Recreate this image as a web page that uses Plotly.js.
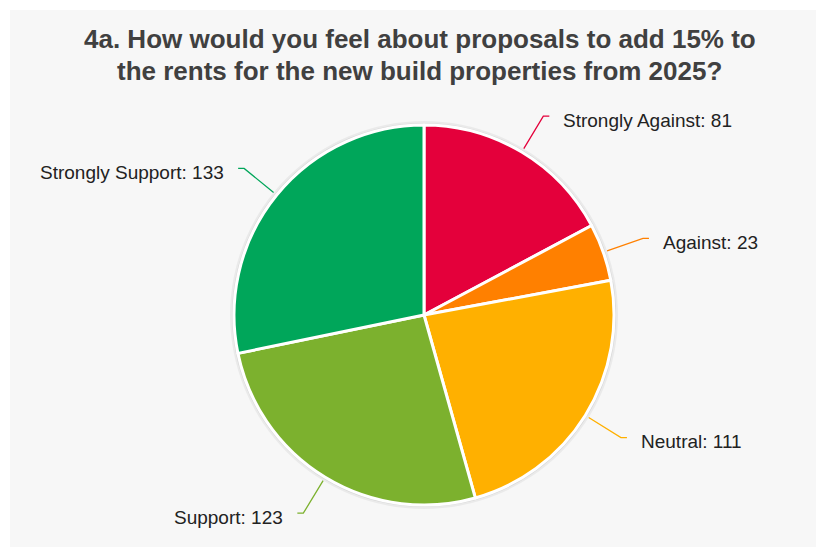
<!DOCTYPE html>
<html>
<head>
<meta charset="utf-8">
<script src="https://cdn.plot.ly/plotly-3.0.1.min.js"></script>
<style>html,body{margin:0;padding:0;background:#fff;}#chart{width:816px;height:547px;}</style>
</head>
<body>
<div id="chart"></div>
<script>
const categories = ["Strongly Against", "Against", "Neutral", "Support", "Strongly Support"];
const values = [81, 23, 111, 123, 133];
const colors = ["#e4003b", "#ff8000", "#ffb000", "#7cb12e", "#00a65a"];
const titleLines = ["4a. How would you feel about proposals to add 15% to",
                    "the rents for the new build properties from 2025?"];

const W = 816, H = 547;
const cx = 424, cy = 315, R = 190;
const px = x => x / W;
const py = y => 1 - y / H;

const total = values.reduce((a, b) => a + b, 0);
const shapes = [
  {type: "rect", xref: "paper", yref: "paper", x0: px(10), x1: 1, y0: 0, y1: py(10),
   fillcolor: "#f7f7f7", line: {width: 0}, layer: "below"},
  {type: "circle", xref: "paper", yref: "paper", x0: px(cx - R - 4), x1: px(cx + R + 4),
   y0: py(cy + R + 4), y1: py(cy - R - 4), fillcolor: "rgba(0,0,0,0.05)", line: {width: 0}, layer: "below"},
  {type: "circle", xref: "paper", yref: "paper", x0: px(cx - R - 2), x1: px(cx + R + 2),
   y0: py(cy + R + 2), y1: py(cy - R - 2), fillcolor: "rgba(0,0,0,0.08)", line: {width: 0}, layer: "below"}
];
const titleFont = {family: "Liberation Sans, Arial, sans-serif", size: 26, color: "#404040", weight: "bold"};
const annotations = titleLines.map((t, k) => ({
  xref: "paper", yref: "paper", x: px(420), y: py(39 + 32 * k), xanchor: "center", yanchor: "middle",
  showarrow: false, text: "<b>" + t + "</b>", font: titleFont
}));
let cum = 0;
values.forEach((v, i) => {
  const mid = (cum + v / 2) / total * 2 * Math.PI;
  cum += v;
  const s = Math.sin(mid), c = Math.cos(mid);
  const x1 = cx + (R + 4) * s, y1 = cy - (R + 4) * c;
  const x2 = cx + (R + 42) * s, y2 = cy - (R + 42) * c;
  const dir = s >= 0 ? 1 : -1;
  const x3 = x2 + dir * 6;
  shapes.push({type: "path", xref: "paper", yref: "paper",
    path: `M ${px(x1)} ${py(y1)} L ${px(x2)} ${py(y2)} L ${px(x3)} ${py(y2)}`,
    line: {color: colors[i], width: 1.3}});
  annotations.push({xref: "paper", yref: "paper", x: px(x3 + dir * 12), y: py(y2 + 4),
    xanchor: dir > 0 ? "left" : "right", yanchor: "middle", showarrow: false,
    text: categories[i] + ": " + values[i],
    font: {family: "Liberation Sans, Arial, sans-serif", size: 19, color: "#222"}});
});

const data = [{
  type: "pie",
  labels: categories,
  values: values,
  sort: false,
  direction: "clockwise",
  rotation: 0,
  textinfo: "none",
  hoverinfo: "label+value",
  marker: {colors: colors, line: {color: "#ffffff", width: 3}},
  domain: {x: [px(cx - R), px(cx + R)], y: [py(cy + R), py(cy - R)]},
  showlegend: false
}];

const layout = {
  width: W, height: H,
  margin: {l: 0, r: 0, t: 0, b: 0},
  paper_bgcolor: "#ffffff",
  shapes: shapes,
  annotations: annotations,
  showlegend: false
};

Plotly.newPlot("chart", data, layout, {displayModeBar: false, staticPlot: true});
</script>
</body>
</html>
